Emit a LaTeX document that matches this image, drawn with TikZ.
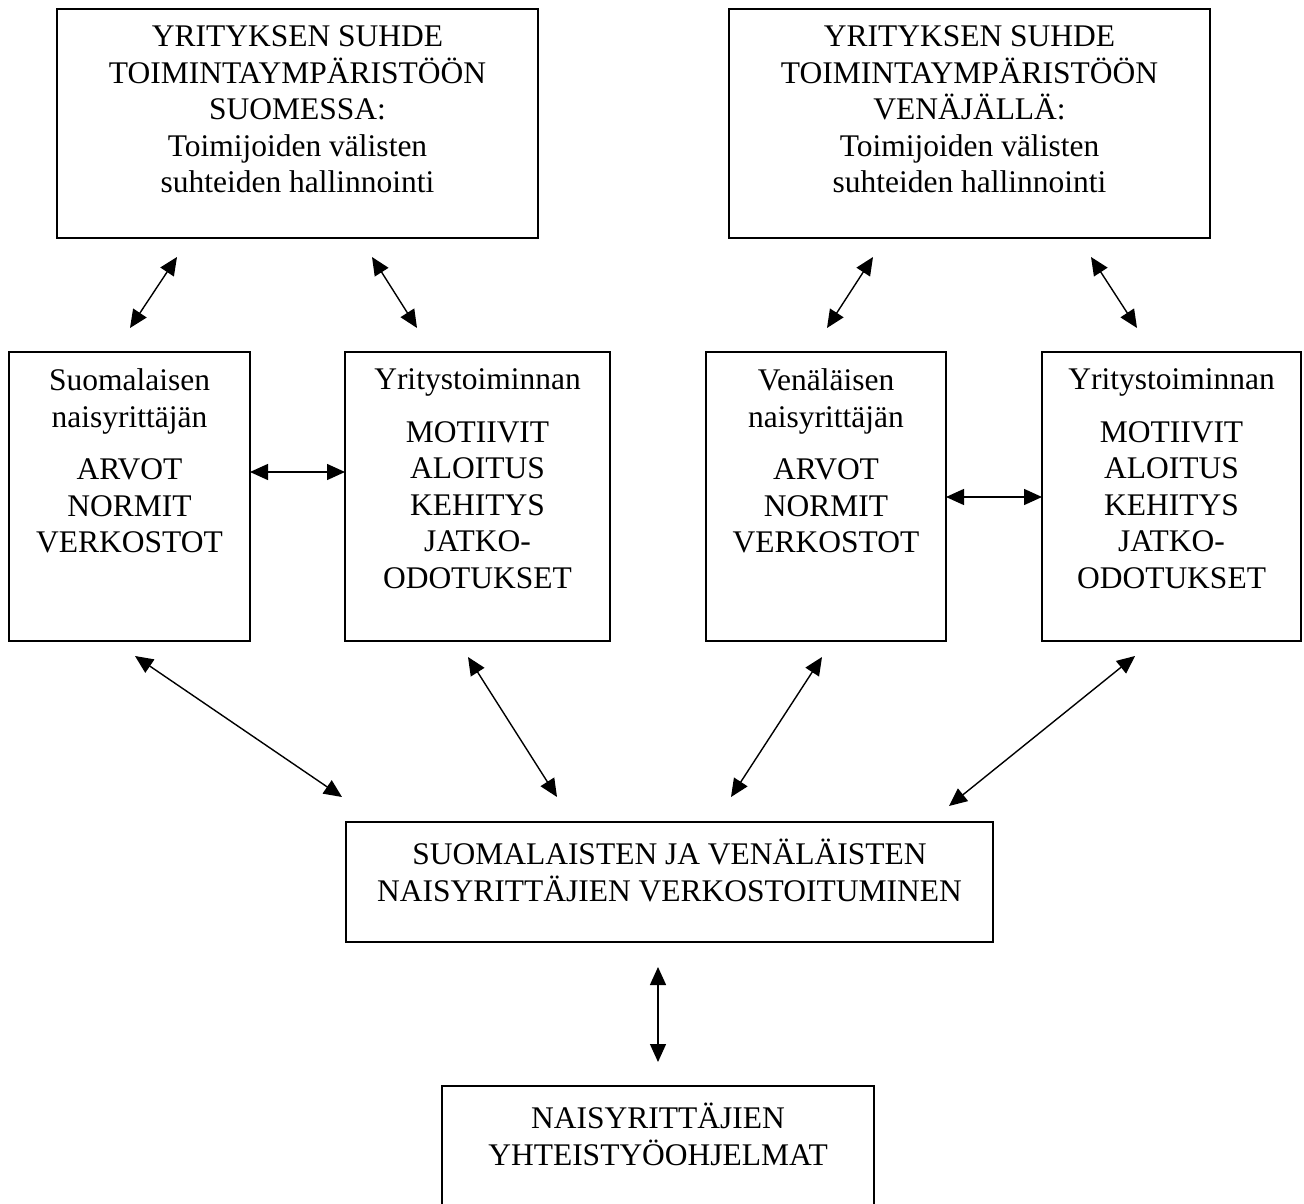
\documentclass[tikz,border=0pt]{standalone}
\usepackage{fontspec}
\setmainfont{Liberation Serif}
\usetikzlibrary{arrows.meta}
\newcommand{\boxtext}[3]{\parbox[c][#2][t]{#1}{\centering #3}}

\begin{document}
\begin{tikzpicture}[
  x=0.5pt, y=-0.5pt,
  box/.style={draw, line width=1pt, anchor=north west, inner xsep=0pt, inner ysep=8.5pt, outer sep=0pt, font=\fontsize{15.75}{18.25}\selectfont},
  arrow/.style={<->, line width=0.7pt, >={Triangle[length=9pt, width=8pt]}},
]
\useasboundingbox (0,0) rectangle (1304,1203);

% Top row: operating environment
\node[box] (fienv) at (57,9) {\boxtext{240.5pt}{97.5pt}{YRITYKSEN SUHDE\\TOIMINTAYMPÄRISTÖÖN\\SUOMESSA:\\Toimijoiden välisten\\suhteiden hallinnointi}};
\node[box] (ruenv) at (729,9) {\boxtext{240.5pt}{97.5pt}{YRITYKSEN SUHDE\\TOIMINTAYMPÄRISTÖÖN\\VENÄJÄLLÄ:\\Toimijoiden välisten\\suhteiden hallinnointi}};

% Middle row: entrepreneur and business
\node[box] (fiwoman) at (9,352) {\boxtext{120.5pt}{127.5pt}{Suomalaisen\\naisyrittäjän\\[8pt]ARVOT\\NORMIT\\VERKOSTOT}};
\node[box] (fibiz) at (345,352) {\boxtext{132.5pt}{127.5pt}{Yritystoiminnan\\[8pt]MOTIIVIT\\ALOITUS\\KEHITYS\\JATKO-\\ODOTUKSET}};
\node[box] (ruwoman) at (706,352) {\boxtext{120pt}{127.5pt}{Venäläisen\\naisyrittäjän\\[8pt]ARVOT\\NORMIT\\VERKOSTOT}};
\node[box] (rubiz) at (1042,352) {\boxtext{129.5pt}{127.5pt}{Yritystoiminnan\\[8pt]MOTIIVIT\\ALOITUS\\KEHITYS\\JATKO-\\ODOTUKSET}};

% Networking and programmes
\node[box] (network) at (346,822) {\boxtext{323.5pt}{43pt}{SUOMALAISTEN JA VENÄLÄISTEN\\NAISYRITTÄJIEN VERKOSTOITUMINEN}};
\node[box] (programs) at (442,1086) {\boxtext{216pt}{45pt}{NAISYRITTÄJIEN\\YHTEISTYÖOHJELMAT}};

% Free arrow ends
\coordinate (fienvA) at (177,257);
\coordinate (fienvB) at (372,257);
\coordinate (ruenvA) at (873,257);
\coordinate (ruenvB) at (1091,257);
\coordinate (fiwomanT) at (130,328);
\coordinate (fibizT) at (417,328);
\coordinate (ruwomanT) at (827,328);
\coordinate (rubizT) at (1137,328);
\coordinate (fiwomanB) at (135,656);
\coordinate (fibizB) at (468,657);
\coordinate (ruwomanB) at (822,657);
\coordinate (rubizB) at (1135,656);
\coordinate (netA) at (342,797);
\coordinate (netB) at (557,797);
\coordinate (netC) at (731,797);
\coordinate (netD) at (949,806);
\coordinate (netE) at (658,967);
\coordinate (progT) at (658,1062);

\draw[arrow] (fiwomanT) -- (fienvA);
\draw[arrow] (fienvB) -- (fibizT);
\draw[arrow] (ruwomanT) -- (ruenvA);
\draw[arrow] (ruenvB) -- (rubizT);

\draw[arrow] (fiwoman.east |- 0,472) -- (fibiz.west |- 0,472);
\draw[arrow] (ruwoman.east |- 0,497) -- (rubiz.west |- 0,497);

\draw[arrow] (fiwomanB) -- (netA);
\draw[arrow] (fibizB) -- (netB);
\draw[arrow] (ruwomanB) -- (netC);
\draw[arrow] (rubizB) -- (netD);

\draw[arrow] (netE) -- (progT);

\end{tikzpicture}
\end{document}
